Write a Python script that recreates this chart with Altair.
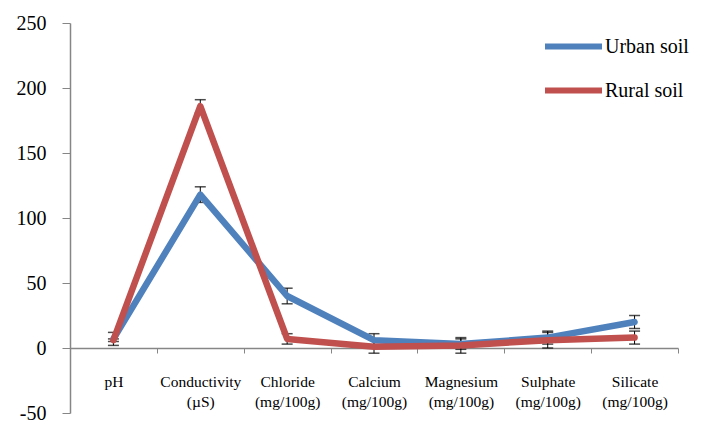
import altair as alt
import pandas as pd

names = ["pH", "Conductivity", "Chloride", "Calcium", "Magnesium", "Sulphate", "Silicate"]
units = ["", "(µS)", "(mg/100g)", "(mg/100g)", "(mg/100g)", "(mg/100g)", "(mg/100g)"]
urban = [7, 118, 40, 6, 3, 8, 20]
urban_err = [5, 6, 6, 5, 4, 5, 5]
rural = [6, 186, 7, 1, 2, 6, 8]
rural_err = [1, 5, 4, 5, 6, 6, 5]
series = ["Urban soil", "Rural soil"]
colors = ["#4F81BD", "#C0504D"]

FONT = "'Liberation Serif', serif"

cats = [n + ("|" + u if u else "") for n, u in zip(names, units)]
rows = []
for s, vals, errs in [(series[0], urban, urban_err), (series[1], rural, rural_err)]:
    for c, v, e in zip(cats, vals, errs):
        rows.append({"cat": c, "series": s, "value": v, "lo": v - e, "hi": v + e})
df = pd.DataFrame(rows)

xenc = alt.X(
    "cat:N",
    sort=cats,
    scale=alt.Scale(type="band", paddingInner=0, paddingOuter=0),
    axis=alt.Axis(
        title=None,
        orient="bottom",
        offset=-65,
        tickBand="extent",
        labelAngle=0,
        labelExpr="split(datum.label, '|')",
        labelFont=FONT,
        labelFontSize=15.5,
        labelColor="#000000",
        labelLineHeight=20,
        labelPadding=21,
        labelBaseline="top",
        tickSize=5,
        tickColor="#868686",
        domainColor="#868686",
        domainWidth=1.5,
        grid=False,
    ),
)

yscale = alt.Scale(domain=[-50, 250], nice=False, zero=False)
yaxis = alt.Axis(
    title=None,
    values=[-50, 0, 50, 100, 150, 200, 250],
    labelExpr="replace(datum.label, '\u2212', '-')",
    labelFont=FONT,
    labelFontSize=20,
    labelColor="#000000",
    labelPadding=16,
    tickSize=8,
    tickColor="#868686",
    domainColor="#868686",
    domainWidth=1.5,
    grid=False,
)

base = alt.Chart(df)

err_rule = base.mark_rule(color="#000000", strokeWidth=1).encode(
    x=xenc,
    y=alt.Y("lo:Q", scale=yscale, axis=yaxis),
    y2="hi:Q",
)
err_lo = base.mark_tick(color="#000000", thickness=1.5, size=11).encode(
    x=alt.X("cat:N", sort=cats), y=alt.Y("lo:Q")
)
err_hi = base.mark_tick(color="#000000", thickness=1.5, size=11).encode(
    x=alt.X("cat:N", sort=cats), y=alt.Y("hi:Q")
)

lines = base.mark_line(strokeWidth=6.5, strokeJoin="round", strokeCap="round").encode(
    x=alt.X("cat:N", sort=cats),
    y=alt.Y("value:Q"),
    color=alt.Color(
        "series:N",
        sort=series,
        scale=alt.Scale(domain=series, range=colors),
        legend=alt.Legend(
            title=None,
            orient="none",
            legendX=472,
            legendY=-8,
            symbolType="stroke",
            symbolStrokeWidth=6,
            symbolSize=3249,
            labelFont=FONT,
            labelFontSize=20,
            labelColor="#000000",
            labelOffset=0,
            rowPadding=0,
        ),
    ),
)

chart = (
    alt.layer(err_rule, err_lo, err_hi, lines)
    .properties(
        width=608,
        height=390,
        autosize=alt.AutoSizeParams(type="none"),
        padding={"left": 62, "top": 15, "right": 22, "bottom": 9},
        background="#ffffff",
    )
    .configure_view(stroke=None)
)

chart.save("out.html", embed_options={"renderer": "svg", "actions": False})
